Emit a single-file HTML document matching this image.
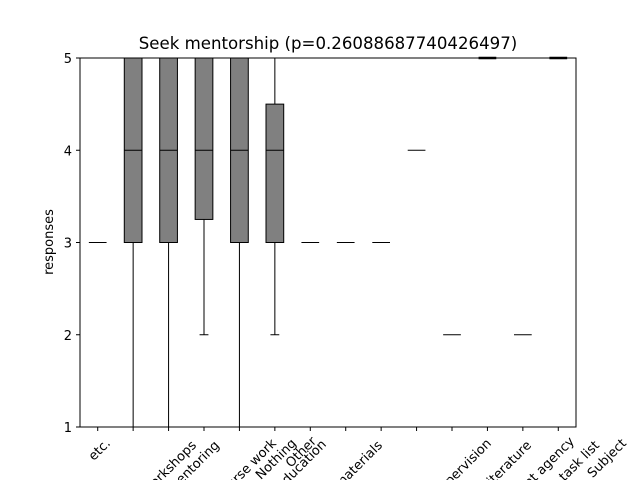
<!DOCTYPE html>
<html><head><meta charset="utf-8"><style>
html,body{margin:0;background:#fff;width:640px;height:480px;overflow:hidden}
svg{display:block}
svg text{font-family:"DejaVu Sans","Liberation Sans",sans-serif}
</style></head><body>
<svg id="chart" width="640" height="480" xmlns="http://www.w3.org/2000/svg" overflow="hidden">
<rect width="640" height="480" fill="#fff"/>
<text x="328" y="49" font-size="16.6" text-anchor="middle">Seek mentorship (p=0.26088687740426497)</text>
<text transform="translate(53,242) rotate(-90)" font-size="13" text-anchor="middle">responses</text>
<g id="plot"></g>
<rect x="80" y="58" width="496" height="369" fill="none" stroke="#000" stroke-width="1"/>
</svg>
<script>
const categories=["etc.","Attend workshops","Peer mentoring","Course work","Nothing","Further education","Other","Course materials","","Supervision","Literature","Student agency","Own task list","Subject"];
const whiskerLow=[3,1,1,2,1,2,3,3,3,4,2,5,2,5];
const q1=[3,3,3,3.25,3,3,3,3,3,4,2,5,2,5];
const medians=[3,4,4,4,4,4,3,3,3,4,2,5,2,5];
const q3=[3,5,5,5,5,4.5,3,3,3,4,2,5,2,5];
const whiskerHigh=[3,5,5,5,5,5,3,3,3,4,2,5,2,5];
const yTicks=[1,2,3,4,5];
const labelEnds=[[111,444],[197,446],[220,446],[277,444],[297,444],[327,445],[317,442],[383,446],[0,0],[492,444],[532,446],[575,442],[600,446],[627,444]];
const X0=80,X1=576,Y0=427,Y1=58;
const xs=i=>X0+(i+0.5)*(X1-X0)/categories.length;
const ys=v=>Y0-(v-1)*(Y0-Y1)/4;
const NS="http://www.w3.org/2000/svg";
const g=document.getElementById('plot');
function mk(t,a){const e=document.createElementNS(NS,t);for(const k in a)e.setAttribute(k,a[k]);g.appendChild(e);return e;}
yTicks.forEach(v=>{
 const t=mk('line',{x1:X0-4,x2:X0,y1:ys(v),y2:ys(v),stroke:'#000'});
 
 
 const l=mk('text',{x:X0-8,y:ys(v)+5,'font-size':13,'text-anchor':'end'});
 l.textContent=v;
 
 
});
const hw=0.25*(X1-X0)/categories.length;
categories.forEach((c,i)=>{
 const x=xs(i);
 const t=mk('line',{x1:x,x2:x,y1:Y0,y2:Y0+4,stroke:'#000'});
 
 
 if(c){const [ex,ey]=labelEnds[i];
 const l=mk('text',{transform:`translate(${ex},${ey}) rotate(-45)`,'font-size':13,'text-anchor':'end'});
 l.textContent=c;
 
 }
 const w=mk('line',{x1:x,x2:x,y1:ys(whiskerLow[i]),y2:ys(whiskerHigh[i]),stroke:'#000'});
 
 
 if(q3[i]>q1[i]){
 const b=mk('rect',{x:x-hw,y:ys(q3[i]),width:2*hw,height:ys(q1[i])-ys(q3[i]),fill:'#808080',stroke:'#000'});
 
 }
 const m=mk('line',{x1:x-hw,x2:x+hw,y1:ys(medians[i]),y2:ys(medians[i]),stroke:'#000','stroke-width':medians[i]===5&&q3[i]===q1[i]?2.5:1});
 
 
 if(whiskerLow[i]<q1[i]){const c1=mk('line',{x1:x-hw/2,x2:x+hw/2,y1:ys(whiskerLow[i]),y2:ys(whiskerLow[i]),stroke:'#000'});
 
 }
});
</script>
</body></html>
